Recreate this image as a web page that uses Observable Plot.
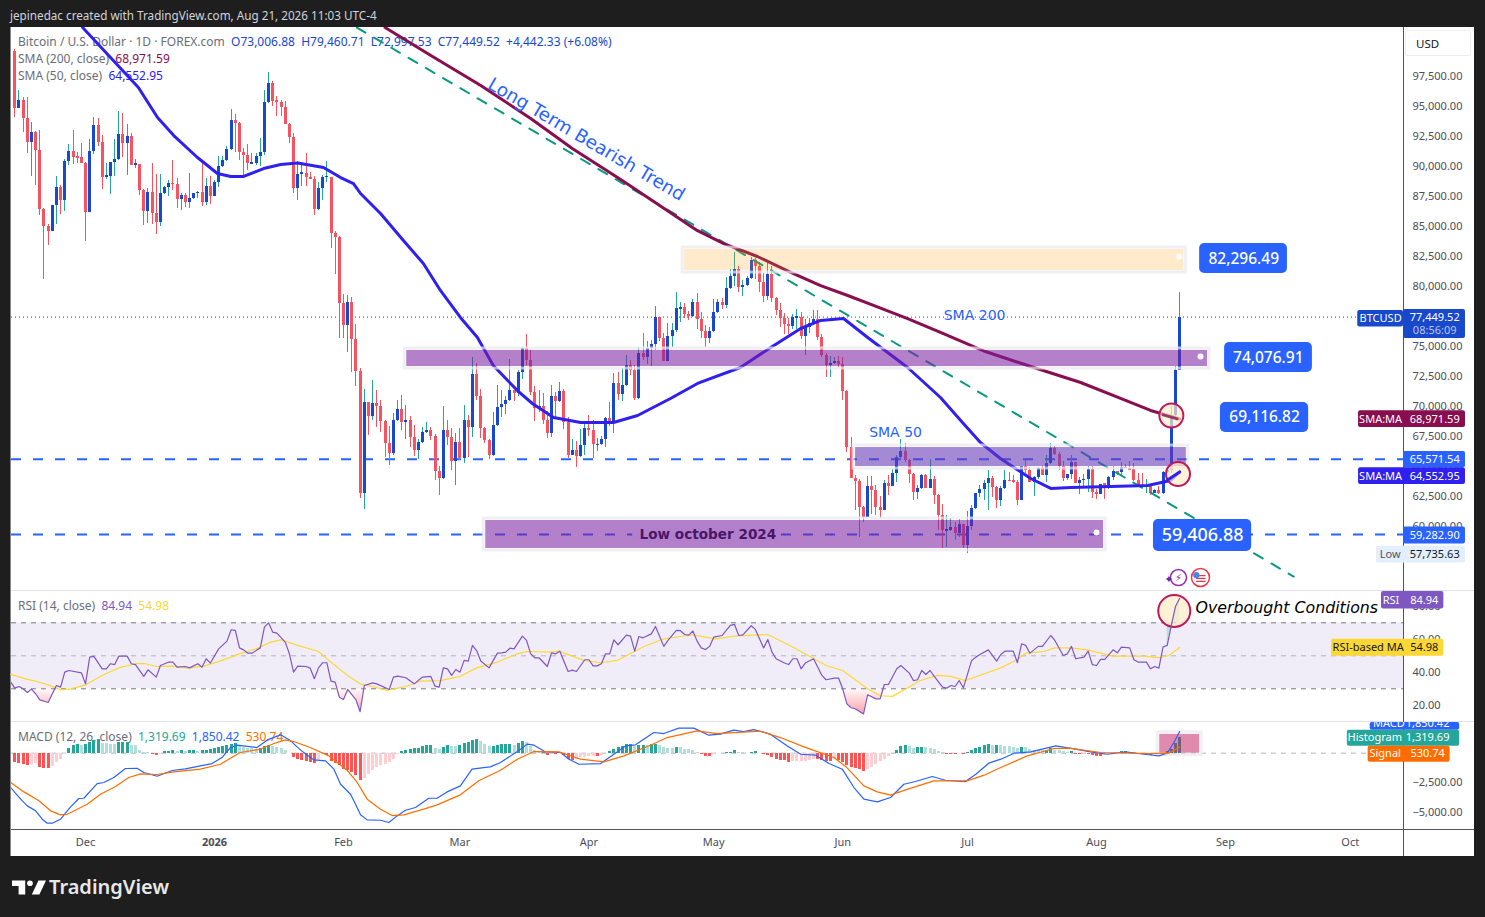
<!DOCTYPE html>
<html><head><meta charset="utf-8">
<script src="https://cdn.jsdelivr.net/npm/d3@7"></script>
<script src="https://cdn.jsdelivr.net/npm/@observablehq/plot@0.6"></script>
<style>
html,body{margin:0;padding:0;background:#1e1e1e;overflow:hidden}
#page{position:relative;width:1485px;height:917px;background:#1e1e1e;font-family:"Noto Sans",sans-serif;overflow:hidden}
#sheet{position:absolute;left:11px;top:27px;width:1463px;height:829px;background:#fff}
.abs{position:absolute}
.legend{position:absolute;left:18px;font-size:12px;color:#6a6d78;white-space:pre;line-height:14px}
svg.plot{position:absolute;left:0}
</style></head><body>
<div id="page">
<div class="abs" style="left:10px;top:7px;font-size:11.7px;color:#d1d4dc">jepinedac created with TradingView.com, Aug 21, 2026 11:03 UTC-4</div>
<div id="sheet"></div>
<div class="abs" style="left:10px;top:27px;width:1px;height:829px;background:#888"></div>
<div class="abs" style="left:11px;top:590px;width:1463px;height:1px;background:#e0e3eb"></div>
<div class="abs" style="left:11px;top:721px;width:1463px;height:1px;background:#e0e3eb"></div>
<div class="abs" style="left:11px;top:829px;width:1463px;height:1px;background:#50535e"></div>
<div class="abs" style="left:1403px;top:27px;width:1px;height:829px;background:#50535e"></div>
<div class="abs" style="left:1405px;top:30px;width:66px;height:26px;border:1px solid #eceef2;border-radius:2px;box-sizing:border-box;font-size:11.5px;color:#131722;line-height:26px;padding-left:10px">USD</div>
<div class="legend" style="top:35px">Bitcoin / U.S. Dollar · 1D · FOREX.com  <span style="color:#1848cc">O73,006.88  H79,460.71  L72,997.53  C77,449.52  +4,442.33 (+6.08%)</span></div>
<div class="legend" style="top:52px">SMA (200, close)  <span style="color:#880e4f">68,971.59</span></div>
<div class="legend" style="top:69px">SMA (50, close)  <span style="color:#3020f0">64,552.95</span></div>
<div class="legend" style="top:599px">RSI (14, close)  <span style="color:#7e57c2">84.94</span>  <span style="color:#fdd835">54.98</span></div>
<div class="legend" style="top:730px">MACD (12, 26, close)  <span style="color:#26a69a">1,319.69</span>  <span style="color:#2962ff">1,850.42</span>  <span style="color:#ff6d00">530.74</span></div>
<svg class="abs" style="left:12px;top:880px" width="34" height="15" viewBox="0 0 36 15"><path fill="#fff" d="M0 0h14v15h-7v-9h-7z"/><circle cx="19" cy="3" r="3" fill="#fff"/><path fill="#fff" d="M28 0h8l-7 15h-8z"/></svg>
<div class="abs" style="left:49px;top:873px;font-size:20px;font-weight:600;color:#e8e8e8">TradingView</div>
</div>
<script>
// ---------- Candles, thousands of USD, one per day from 14 Nov 2025 ----------
const firstOpenK = 99.61;
const closesK = [94.86,95.50,94.03,92.03,92.84,91.34,86.45,85.03,84.61,86.75,
88.25,87.17,90.42,91.25,90.78,90.75,90.28,86.20,91.25,93.42,
92.00,89.09,89.17,90.34,90.59,92.67,91.92,92.50,90.09,90.17,
88.00,86.25,87.84,86.09,85.34,87.75,88.25,88.59,88.50,87.25,
87.59,87.00,87.34,87.75,87.84,87.00,88.34,87.50,88.67,90.00,
90.50,91.42,93.84,93.59,91.17,90.92,90.25,90.25,90.84,91.17,
95.34,96.92,95.42,95.34,94.92,93.50,92.42,88.17,89.34,89.42,
89.09,88.92,86.42,88.17,89.09,89.09,84.42,84.09,78.55,76.75,
78.66,75.58,72.91,62.77,70.33,69.16,70.25,70.00,68.75,66.91,
66.08,68.83,69.75,68.66,68.83,67.41,66.33,67.00,67.83,68.00,
67.50,64.58,64.00,68.00,67.41,65.41,67.00,65.66,68.83,68.25,
72.66,70.83,68.16,67.16,65.91,68.41,69.91,70.16,70.50,71.33,
71.08,72.83,74.83,73.83,71.16,69.83,70.00,68.83,67.75,70.83,
70.41,71.25,68.66,65.91,66.33,65.83,66.75,68.16,68.00,66.83,
66.83,67.25,69.00,68.66,71.91,71.00,71.75,73.41,73.00,70.66,
74.41,74.08,74.83,75.16,77.39,75.66,73.75,75.83,76.33,78.16,
78.22,77.66,77.50,78.66,77.25,76.25,75.66,76.25,77.84,78.67,
78.42,79.84,80.84,81.42,79.92,80.09,80.67,82.17,81.67,80.34,
79.17,81.00,79.00,78.00,77.34,76.84,76.67,77.42,77.42,75.84,
76.59,76.92,77.25,75.75,74.25,73.42,73.59,73.75,73.50,71.25,
66.61,64.03,63.75,61.58,60.75,63.33,63.00,61.58,61.33,63.58,
63.33,64.42,65.75,66.25,65.50,64.33,62.83,63.17,64.25,63.17,
63.92,62.58,60.92,59.67,59.67,59.92,59.42,60.17,58.42,60.00,
61.50,62.75,63.08,63.58,64.00,63.25,62.17,63.17,63.83,63.80,
63.67,62.17,65.00,64.67,63.67,64.08,64.83,64.25,65.25,66.50,
66.00,65.00,64.00,64.33,65.33,63.58,63.83,63.92,64.72,62.83,
62.67,63.50,63.42,64.08,64.58,64.50,64.92,64.83,64.75,63.83,
63.42,63.33,63.39,62.75,63.00,62.75,64.50,64.64,69.25,73.007,77.44952];
const highsK = [99.73,96.34,95.78,95.78,93.67,92.92,93.00,86.48,85.17,86.75,
89.17,88.42,90.59,91.84,93.00,91.20,91.89,90.34,92.23,94.06,
94.00,92.59,90.23,90.36,92.28,94.59,94.42,93.50,92.73,90.59,
90.17,88.09,88.14,90.25,89.34,89.34,88.34,88.84,90.50,89.00,
87.75,87.75,89.42,87.75,87.92,90.34,89.00,89.17,88.84,90.84,
90.84,91.67,94.75,94.34,93.67,91.50,91.84,91.09,91.09,92.34,
96.34,97.84,97.09,95.84,95.50,95.42,93.59,92.73,90.42,90.17,
91.09,89.50,89.17,88.67,89.25,90.42,89.09,84.59,84.17,79.33,
79.25,79.08,76.83,73.16,71.41,70.33,72.16,71.33,70.50,68.83,
68.33,69.41,70.50,70.91,70.08,69.16,68.41,67.25,68.25,68.66,
68.25,67.66,65.00,70.00,68.83,68.16,67.75,68.16,70.08,69.25,
74.08,73.58,71.41,68.25,67.25,69.50,71.75,71.33,70.83,73.91,
71.33,73.00,74.91,76.00,74.66,71.66,71.33,71.08,69.58,71.75,
71.16,72.00,71.41,69.08,67.25,67.08,68.08,68.55,69.25,68.83,
67.33,67.50,69.08,70.33,72.75,72.83,73.16,74.25,73.83,73.41,
74.91,76.08,75.41,75.50,78.33,77.39,76.08,76.91,76.91,79.50,
78.66,78.58,77.91,78.91,79.41,77.83,76.75,76.59,78.89,78.92,
79.00,80.75,81.39,82.84,81.67,80.50,80.84,82.42,82.34,82.00,
81.09,82.00,81.67,79.09,78.59,77.72,77.34,77.67,78.09,77.84,
77.25,77.34,77.98,78.00,76.00,74.42,74.17,74.09,74.17,74.09,
71.34,67.39,64.25,63.92,61.67,64.17,64.17,63.42,62.50,63.83,
64.25,64.75,65.92,67.22,66.92,65.58,64.42,63.42,64.33,64.33,
65.58,64.17,62.67,61.83,60.92,60.69,60.36,60.58,60.17,61.25,
61.75,62.75,63.42,63.83,64.67,64.17,63.33,63.33,64.67,64.50,
64.25,63.83,65.03,65.50,64.94,64.17,64.94,64.97,65.92,66.89,
66.67,66.17,65.42,64.33,65.92,65.33,64.08,64.33,65.00,65.00,
63.08,63.50,63.56,64.17,65.00,64.58,65.33,65.17,65.42,65.28,
64.42,64.42,63.92,63.50,63.11,63.33,64.58,64.72,70.00,73.33,79.46071];
const lowsK = [94.11,94.81,92.86,91.11,89.20,88.45,85.92,80.56,83.45,84.61,
85.17,86.00,86.25,90.09,90.17,90.23,90.23,83.78,86.20,91.00,
91.67,88.11,88.92,87.70,89.17,90.50,90.75,89.28,90.09,89.81,
87.61,85.11,85.28,85.17,84.36,85.00,87.67,87.50,88.00,86.48,
86.34,86.61,86.50,87.25,87.34,86.67,86.75,86.84,87.50,88.28,
89.92,90.42,91.34,91.17,90.50,89.17,89.67,90.25,90.09,90.00,
90.92,95.25,95.00,94.17,94.17,93.50,91.92,87.75,87.17,88.34,
88.37,88.92,85.92,86.34,87.17,88.67,83.17,81.00,75.64,75.64,
74.50,72.83,71.66,62.36,61.39,67.58,68.83,68.27,67.83,65.75,
65.08,65.91,68.75,68.00,67.25,66.58,65.83,65.58,66.91,67.75,
67.16,63.83,62.58,63.91,66.75,64.66,63.41,65.50,65.25,65.78,
67.44,70.50,67.33,66.91,65.58,65.83,68.33,69.05,69.33,70.41,
70.41,70.83,72.25,73.41,70.91,68.75,69.50,68.50,67.33,67.44,
68.91,70.33,68.08,65.66,65.91,64.91,65.75,65.91,67.50,65.66,
66.25,66.75,66.58,68.33,67.75,70.50,70.41,71.66,72.58,70.50,
70.58,73.83,73.50,73.33,74.66,75.41,73.75,73.75,74.94,76.16,
77.00,77.36,77.16,77.41,76.41,75.66,74.91,75.25,76.17,77.75,
78.09,78.17,79.75,80.00,79.50,79.17,80.00,80.59,80.59,79.50,
78.67,78.84,78.67,77.59,76.59,76.00,76.00,76.42,76.42,75.59,
74.25,76.06,76.84,75.50,74.09,72.42,72.42,73.50,73.25,70.50,
66.14,63.97,61.33,59.11,60.33,60.75,61.00,60.92,60.67,61.33,
62.58,63.33,63.67,65.67,65.33,63.56,62.17,62.25,63.08,63.17,
63.17,61.83,59.67,58.14,58.25,59.58,58.83,59.11,58.14,57.74,
59.67,61.42,62.44,62.17,61.33,62.44,61.50,61.67,63.08,63.75,
63.61,61.75,62.17,64.39,63.67,62.50,63.92,64.25,63.67,65.17,
65.92,64.67,63.72,63.83,63.92,63.58,62.67,63.17,62.83,62.33,
62.25,62.67,62.25,63.08,63.83,64.25,64.17,64.81,64.72,63.75,
63.33,63.22,62.78,62.58,62.75,62.64,62.67,64.39,64.39,69.16,72.99753];

// ---------- Moving averages ----------
const sma200Days = [89,100,112,124,134,146,155,164,170.4,178.5,186.5,193.7,200.2,206.4,214.6,222.5,233.3,244.2,256.2,265.8,273,280];
const sma200K = [101.58,99.25,96.75,94.0,91.5,88.83,86.75,84.67,83.58,82.5,81.17,80.08,79.25,78.42,77.33,76.17,74.58,73.33,72.0,70.67,69.67,68.97];
const sma50Days = [16.3,29.7,34.3,38.2,43.9,48.7,51.9,55,59.8,63.9,68,74.2,78.3,81.4,83.1,87.9,93.4,98.2,102.3,107.1,111.2,115,120.8,124.4,129.5,136,143.9,149.7,157.6,164.1,174.4,181.7,188.9,193.7,199.2,205,214.6,222.5,228,232.1,236.9,244.2,249,253.8,263.4,272.3,277.8,280];
const sma50K = [101.58,96.58,94.08,92.58,90.75,89.42,89.17,89.17,89.83,90.17,90.29,89.92,89.08,88.58,87.75,86.08,83.83,81.92,79.67,77.42,75.75,73.42,71.33,70.25,69.08,68.67,68.67,69.25,70.67,71.92,73.25,74.92,76.5,77.17,77.33,75.75,73.25,70.75,68.58,67.0,65.67,64.0,63.17,63.25,63.33,63.42,63.83,64.55];

// ---------- RSI ----------
const rsiDays = [-1,0,1,2,3,4,5,6,8,10,11,12,13,16,17,18,19,21,22,23,24,25,27,28,29,31,32,34,35,37,38,39,41,42,44,45,46,47,49,51,52,53,54,55,56,57,59,60,61,62,63,65,66,67,68,70,71,72,73,74,75,76,77,78,79,80,82,83,84,86,87,90,91,92,94,96,98,100,101,102,103,104,105,106,107,108,109,110,111,112,114,116,117,118,119,120,122,123,124,125,126,128,129,130,131,133,134,135,137,138,139,140,141,142,143,144,145,147,148,149,150,151,153,154,156,157,159,160,161,162,163,164,165,166,167,168,170,171,172,173,174,175,177,178,180,181,182,183,185,186,187,188,189,190,192,194,195,197,198,199,200,201,202,204,205,207,208,209,210,212,213,215,216,217,218,219,220,221,223,224,225,226,227,228,230,231,232,234,236,237,238,240,241,242,243,244,246,247,249,250,252,253,254,255,257,258,259,260,261,262,264,265,266,268,269,270,272,273,274,275,276,277,278,279,280];
const rsiValues = [34,30.4,31.4,30,27.8,29.8,27,23.3,21.7,32,31,40.1,41.1,39.7,33,49.2,49.6,42.1,42.1,45.2,44.7,49.8,49.8,45.2,44.7,37.5,41.5,37.1,44.1,46.2,46.2,43.1,43.5,42.7,45.2,43.1,48.2,45.6,54.2,58.9,65.8,65.4,54.8,53.6,51.6,51.6,54.8,67.4,70,64.3,63.7,58.3,51.2,40.1,43.7,43.5,42.5,36.1,42.7,45.8,45.8,34.6,34,24.9,23.5,29.6,23.3,16.1,32,33.6,33,29.6,37.1,37.7,36.7,33,37.1,37.5,31.6,31,42.7,42.1,38.1,41.7,40.1,47.2,46.8,56.3,53.2,46.8,42.7,51.6,51.8,52.2,54.6,54.2,61.9,59.3,51.2,48.8,48.8,43.5,51.8,51.2,52.8,40.5,41.3,40.5,47.6,47.6,43.9,43.9,45.2,51.2,51.2,59.7,56.7,62.5,61.9,52.8,61.7,60.9,63.3,67.8,55.7,59.3,65.4,65.2,62.9,62.5,65,58.9,54.8,53.8,55.7,61.3,62.3,65.4,68.4,69,62.3,62.7,68.2,66,54.8,59.9,52.2,48.2,45.6,44.7,48.2,48.2,42.1,45.6,48.2,38.1,35.5,36.5,36.5,30,20.9,18.5,17.9,14.8,26.4,23.9,23.9,32.6,32.6,42.1,44.1,39.5,35,35.5,41.1,38.7,41.1,37.5,31,30.4,32,31.4,35,30.6,47.2,49.2,50.8,53.6,46.8,50.8,52.8,52.8,45.8,57.3,56.3,51.6,55.7,55.7,62.3,59.3,50.2,51.2,55.7,48.2,49.2,52.8,44.7,44.1,47.8,47.8,53.6,51.8,55.3,54.8,47.6,46.2,46.2,42.1,43.5,42.5,55.3,56.3,68.4,79.9,84.94];
const rsiMaDays = [-1,3,5,8,11,13.5,17,21,25,29,31.4,34,38,41.5,45.4,48.6,52,54,58,61.5,64,68,73,75.5,80,83,86,89.5,94,97.5,102.3,107,111,116,120.8,123,128.8,130.8,136.8,140.8,144.8,151,156,160,163,168.4,173.6,181,187,195,199,205,208,211,217.7,221.7,225,228.5,237,241,243,247.4,250,253.8,257.8,264,271.4,275.4,277.4,280];
const rsiMaValues = [38.7,35.7,34.6,32.4,29.4,30,32.4,38.1,42.7,45.2,45.2,43.5,43.7,42.5,43.7,46.2,49.2,51.2,54.2,58.3,59.7,56.3,52.6,47.2,38.1,33,31.4,29,31.4,34.6,35,37.5,42.7,46.2,51.2,52.6,52.2,52.8,47.2,45.8,47.2,55.3,60.3,61.7,62.7,60.3,62.1,62.9,55.3,44.1,41.1,30,25.8,25.4,35,38.1,37.5,35,42.7,47.8,51.6,52.6,54.8,54.8,53.6,49.8,49.8,48.8,50.2,54.98];

// ---------- MACD, thousands ----------
const macdDays = [-1,1.4,3,5,6.6,7.8,9,11,13.4,15.4,16.6,18.2,19.8,21.4,23.8,26.6,29.4,31,34.2,37.8,41,44.6,47.4,49.8,51.8,53.4,58.2,60.7,63.9,66.3,68.7,71.9,74.7,76.7,78.3,80.7,81.9,83.1,84.7,87.9,89.9,91.9,93.9,96.3,99.5,101.5,103.9,107.1,109.9,112.7,114.3,116.75,120.8,123.2,124.8,127.6,131.2,133.2,135.6,140.8,144,146.8,149.2,153.6,156,159.6,163.2,166.8,169.6,172.8,175.2,177.6,181.6,185.7,188.9,192.5,195.7,198.9,201.7,204.1,207.3,210.5,213.7,216.5,220.5,223.7,228.5,231,234.1,237,240.2,244.2,250.2,255,258.6,262.6,267,271.4,275,277,278.6,280];
const macdK = [-2.92,-3.91,-4.48,-4.90,-5.61,-5.95,-5.95,-5.61,-4.56,-3.85,-3.83,-3.20,-2.58,-2.49,-2.07,-1.30,-1.28,-1.64,-1.96,-1.47,-1.33,-1.08,-0.88,-0.37,0.48,0.68,0.48,1.13,1.56,1.05,0.26,-0.57,-0.65,-1.36,-2.64,-3.49,-4.34,-5.24,-5.67,-5.70,-5.89,-5.33,-4.85,-4.62,-3.83,-3.83,-3.29,-2.78,-1.36,-1.22,-1.16,-0.79,0.14,0.77,0.68,0.11,0.06,-0.51,-0.94,-0.88,-0.09,0.62,0.71,1.76,1.67,2.13,2.13,1.53,1.62,1.96,1.84,2.01,1.62,0.62,-0.09,-0.17,-0.88,-1.36,-2.92,-3.91,-4.14,-3.77,-2.64,-2.41,-1.98,-2.30,-2.41,-1.79,-0.85,-0.51,0,0.11,0.62,0.34,0.11,-0.09,0.11,-0.09,-0.23,0,0.91,1.85042];
const signalDays = [-1,2.2,5.8,8.6,11,12.6,17.4,20.6,24.2,27.4,30.2,34.2,38.2,44.6,49.4,54.2,59,62.3,65,67,71,75.5,80,82.3,84.7,87.9,90.7,93.5,98.3,101.5,107.1,111.5,116.75,120.8,124.8,130.8,136,141.6,146.4,152.8,156.8,164,168.8,179.2,184,189.7,196.9,200,204.1,207.3,210.5,214.1,220.9,228.9,233,237,243.4,249.8,253.4,261,273,277.4,280];
const signalK = [-2.49,-3.29,-4.05,-4.90,-5.24,-5.19,-4.34,-3.49,-2.83,-2.07,-1.76,-1.81,-1.59,-1.36,-0.94,0.06,0.34,0.82,1.13,0.99,0.48,-0.23,-1.50,-2.49,-3.91,-4.76,-5.30,-5.24,-4.76,-4.39,-3.54,-2.35,-1.45,-0.51,0.14,0.11,-0.51,-0.74,-0.23,0.68,1.33,1.90,1.67,1.87,1.33,0.54,-0.37,-1.22,-2.78,-3.29,-3.57,-3.12,-2.35,-2.35,-1.87,-1.22,-0.23,0.40,0.43,0.06,-0.03,0,0.53074];
const histK = [-.79,-.85,-.94,-1.02,-.99,-.88,-1.22,-1.30,-1.30,-1.13,-.79,-.57,-.09,.40,.62,.74,.62,.77,.91,1.05,
1.13,.82,.79,.78,.77,.91,.92,.93,.68,.62,.26,.09,.03,-.09,-.23,-.09,.11,.17,.20,.14,
.20,.17,.20,.21,.17,.20,.26,.31,.40,.48,.54,.62,.71,.82,.60,.48,.40,.37,.31,.37,
.54,.62,.60,.48,.40,.20,0,-.37,-.51,-.65,-.71,-.77,-.88,-.65,-.14,-.17,-.71,-.85,-1.08,-1.36,
-1.50,-1.64,-1.93,-2.35,-2.13,-1.79,-1.50,-1.22,-1.08,-.94,-.79,-.51,-.14,.11,.26,.34,.37,.40,.54,.62,
.63,.43,.34,.48,.68,.60,.60,.65,.82,.91,1.05,1.19,.96,.77,.57,.60,.65,.71,.77,.78,
.68,.85,.96,.91,.54,.26,.11,.14,-.23,-.09,-.11,.03,-.23,-.51,-.65,-.51,-.37,-.36,-.31,-.26,
-.28,-.23,0,.11,.34,.48,.54,.71,.72,.54,.62,.65,.62,.71,.72,.62,.48,.40,.37,.48,
.45,.31,.28,.20,.03,-.09,-.28,-.29,-.09,-.03,-.01,.06,.09,.20,.06,.03,.01,.09,.11,0,
-.09,-.23,-.37,-.51,-.60,-.65,-.79,-.74,-.73,-.72,-.71,-.60,-.51,-.52,-.65,-.71,-.74,-.51,-.60,-.79,
-1.08,-1.22,-1.28,-1.42,-1.59,-1.42,-1.22,-.94,-.71,-.51,-.28,-.03,.26,.57,.62,.54,.43,.45,.46,.45,
.44,.31,.14,.03,-.09,-.11,-.12,-.06,-.11,.06,.20,.40,.51,.62,.71,.65,.68,.62,.61,.54,
.48,.43,.48,.45,.34,.26,.23,.20,.26,.40,.26,.20,.14,.06,.11,-.09,-.14,-.11,-.11,-.20,
-.28,-.29,-.23,-.11,-.03,.01,.14,.15,.09,.03,-.09,-.11,-.14,-.17,-.14,-.09,-.03,.11,.34,.82,1.31969];

// ---------- Axes ----------
const priceTicks = [60000,62500,65000,67500,70000,72500,75000,77500,80000,82500,85000,87500,90000,92500,95000,97500];
const rsiTicks = [20,40,60,80];
const macdTicks = [-5000,-2500];
const monthTicks = [[2025,11],[2026,1],[2026,2],[2026,3],[2026,4],[2026,5],[2026,6],[2026,7],[2026,8],[2026,9]];
const monthNames = ["Jan","Feb","Mar","Apr","May","Jun","Jul","Aug","Sep","Oct","Nov","Dec"];

// ---------- Price levels ----------
const lastPrice = 77449.52;
const supportDashes = [65571.54, 59282.90];

// ---------- scales ----------
const START = Date.UTC(2025,10,14);
const day = i => new Date(START + i*864e5);
const K = v => v*1000;
const LEFT = -0.8, RIGHT = 333.8;
const xOpts = {domain:[day(LEFT),day(RIGHT)], range:[11,1403], type:"utc", axis:null};
const W = 1485, FONT = '"Noto Sans",sans-serif';
const baseStyle = {fontFamily:FONT, fontSize:"11px", background:"transparent", overflow:"hidden", color:"#4a4d58"};

const candles = closesK.map((c,i)=>{
  const close=K(c), open=K(i?closesK[i-1]:firstOpenK);
  const tiny = Math.abs(open-close)<85 ? 45 : 0;
  return {date:day(i),open,close,
    high:Math.max(K(highsK[i]),open,close), low:Math.min(K(lowsK[i]),open,close),
    top:Math.max(open,close)+tiny, bot:Math.min(open,close)-tiny, up:close>=open};
});
const ups=candles.filter(d=>d.up), downs=candles.filter(d=>!d.up);
const series=(ds,vs,m=1)=>ds.map((d,i)=>({date:day(d),v:vs[i]*m}));
const box=(d1,d2,v1,v2,fill,extra={})=>({x1:day(d1),x2:day(d2),y1:v1,y2:v2,fill,...extra});
const fmt2=d3.format(",.2f");
const RECT={x1:"x1",x2:"x2",y1:"y1",y2:"y2"};
const tagMarks=tags=>tags.map(t=>Plot.rect([t],{...RECT,fill:t.fill,rx:2}));
const TX=(rows,o={})=>Plot.text(rows,{x:"x",y:"y",text:"t",fill:"#fff",fontSize:11,...o});
const zone=(rows,fill,op)=>[
  Plot.rect(rows,{...RECT,fill,fillOpacity:op}),
  Plot.rect(rows,{...RECT,fill:"none",inset:-2,stroke:"#e9e9ef",strokeOpacity:.7,strokeWidth:3})];

// ---------- MAIN PANE ----------
const zoneYellow = [box(161,281,83080,81330)];
const zonePurple = [box(94.2,286.7,74670,73330),box(113.2,261.7,60500,58170)];
const zoneMid    = [box(202.1,281.6,66580,65000)];
const calloutBoxes=[
  {x1:day(284.8),x2:day(305.9),y1:83580,y2:81080},
  {x1:day(290.8),x2:day(311.9),y1:75330,y2:72830},
  {x1:day(289.8),x2:day(311),y1:70330,y2:67830},
  {x1:day(273.7),x2:day(297.3),y1:60580,y2:57920}];
const callouts=[
  {x:day(295.4),y:82296,t:"82,296.49"},{x:day(301.3),y:74077,t:"74,076.91"},{x:day(300.4),y:69117,t:"69,116.82"}];
const mainTagRects=[
  box(322.8,333.8,78000,76620,"#1848cc"),box(333.8,348.7,78080,75670,"#1848cc"),
  box(323,348.7,69650,68250,"#880e4f"),
  box(333.8,348.7,66250,64900,"#2962ff"),
  box(323,348.7,64900,63500,"#3020f0"),
  box(333.8,348.7,59950,58550,"#2962ff"),
  box(327.3,348.7,58350,56950,"#e3effd")];
const main = Plot.plot({
  width:W,height:563,marginLeft:11,marginRight:82,marginTop:0,marginBottom:0,
  x:xOpts,y:{domain:[54667,101583],range:[563,0],axis:null},style:baseStyle,
  marks:[
    Plot.axisY({anchor:"right",ticks:priceTicks,tickFormat:d=>fmt2(d),tickSize:0,tickPadding:9,label:null,fill:"#4a4d58",fontSize:11,dy:-0.5}),
    Plot.ruleY([lastPrice],{stroke:"#1848cc",strokeDasharray:"1,3",strokeWidth:1}),
    Plot.ruleY(supportDashes,{stroke:"#2962ff",strokeDasharray:"10,12",strokeWidth:2,dy:-0.5}),
    Plot.ruleX(ups,{x:"date",y1:"low",y2:"high",stroke:"#26a69a",strokeWidth:1,shapeRendering:"crispEdges"}),
    Plot.ruleX(downs,{x:"date",y1:"low",y2:"high",stroke:"#f7525f",strokeWidth:1,shapeRendering:"crispEdges"}),
    Plot.ruleX(ups,{x:"date",y1:"bot",y2:"top",stroke:"#1848cc",strokeWidth:3,shapeRendering:"crispEdges"}),
    Plot.ruleX(downs,{x:"date",y1:"bot",y2:"top",stroke:"#f7525f",strokeWidth:3,shapeRendering:"crispEdges"}),
    Plot.line(series([82.2,307.4],[101.58,55.83],1000),{x:"date",y:"v",stroke:"#089981",strokeWidth:2,strokeDasharray:"10,10",clip:true}),
    Plot.line(series(sma200Days,sma200K,1000),{x:"date",y:"v",stroke:"#880e4f",strokeWidth:3,clip:true}),
    Plot.line(series(sma50Days,sma50K,1000),{x:"date",y:"v",stroke:"#3020f0",strokeWidth:3,clip:true}),
    ...zone(zoneYellow,"#ff9800",.2),
    ...zone(zonePurple,"#7b1fa2",.57),
    ...zone(zoneMid,"#673ab7",.6),
    Plot.dot([{x:day(279.9),y:82500},{x:day(285),y:74170},{x:day(260),y:59500}],{x:"x",y:"y",r:3,fill:"#fff"}),
    Plot.dot([{x:day(278),y:69250},{x:day(279.6),y:64380}],{x:"x",y:"y",r:12,fill:"#fdecc8",fillOpacity:.7,stroke:"#c2185b",strokeWidth:2}),
    Plot.line(series([277,280],[63.85,64.55],1000),{x:"date",y:"v",stroke:"#3020f0",strokeWidth:3}),
    Plot.line(series([276,279.4],[69.3,68.97],1000),{x:"date",y:"v",stroke:"#880e4f",strokeWidth:3,strokeOpacity:.75}),
    Plot.text([{x:day(137.4),y:92250}],{x:"x",y:"y",text:()=>"Long Term Bearish Trend",rotate:30.4,fontSize:18.3,fill:"#2962ff",fontFamily:"DejaVu Sans"}),
    Plot.text([{x:day(230.7),y:77580,t:"SMA 200"},{x:day(211.7),y:67830,t:"SMA 50"}],{x:"x",y:"y",text:"t",fontSize:14,fill:"#2962ff",fontFamily:"DejaVu Sans"}),
    Plot.rect([box(148.5,184,59950,58700)],{...RECT,fill:"#b17fcb"}),
    Plot.text([{x:day(166.6),y:59300}],{x:"x",y:"y",text:()=>"Low october 2024",fontSize:13.6,fontWeight:600,fill:"#4a1566",fontFamily:"DejaVu Sans"}),
    Plot.rect(calloutBoxes,{...RECT,fill:"#2962ff",rx:5}),
    Plot.text(callouts,{x:"x",y:"y",text:"t",fill:"#fff",fontSize:15.5,fontWeight:500}),
    Plot.text([{x:day(285.5),y:59250,t:"59,406.88"}],{x:"x",y:"y",text:"t",fill:"#fff",fontSize:18,fontWeight:500}),
    Plot.dot([{x:day(279.7),y:55750}],{x:"x",y:"y",r:8,fill:"#fff",stroke:"#9c27b0",strokeWidth:1.5}),
    Plot.text([{x:day(279.7),y:55750}],{x:"x",y:"y",text:()=>"⚡",fontSize:10,fill:"#9c27b0",fontFamily:"DejaVu Sans"}),
    Plot.text([{x:day(277.4),y:55600}],{x:"x",y:"y",text:()=>"✦",fontSize:11,fill:"#5e2ca5",fontFamily:"DejaVu Sans"}),
    Plot.dot([{x:day(285),y:55750}],{x:"x",y:"y",r:9,fill:"#fff",stroke:"#f23645",strokeWidth:1.5}),
    Plot.text([{x:day(285.1),y:55700}],{x:"x",y:"y",text:()=>"≡",fontSize:15,fill:"#f23645",fontFamily:"DejaVu Sans"}),
    Plot.dot([{x:day(284),y:55950}],{x:"x",y:"y",r:3.2,fill:"#4a86e8"}),
    ...tagMarks(mainTagRects),
    TX([{x:day(328.3),y:77350,t:"BTCUSD"},{x:day(341.3),y:77420,t:"77,449.52"},
        {x:day(328.3),y:68950,t:"SMA:MA"},{x:day(341.3),y:68950,t:"68,971.59"},
        {x:day(341.3),y:65570,t:"65,571.54"},
        {x:day(328.3),y:64200,t:"SMA:MA"},{x:day(341.3),y:64200,t:"64,552.95"},
        {x:day(341.3),y:59250,t:"59,282.90"}]),
    TX([{x:day(341.3),y:76300,t:"08:56:09"}],{fill:"#b9c6ee"}),
    TX([{x:day(330.6),y:57650,t:"Low"}],{fill:"#50535e"}),
    TX([{x:day(341.3),y:57650,t:"57,735.63"}],{fill:"#131722"})
  ]});
main.style.top="27px";

// ---------- RSI PANE ----------
const rsiData=series(rsiDays,rsiValues);
const rsiY={domain:[10.18,88.97],range:[130,0],axis:null};
const osGradient=(index,{y})=>{
  const defs=d3.create("svg:defs");
  const g=defs.append("linearGradient").attr("id","osg").attr("gradientUnits","userSpaceOnUse")
    .attr("x1",0).attr("x2",0).attr("y1",y(30)).attr("y2",y(14));
  g.append("stop").attr("offset",0).attr("stop-color","#f7525f").attr("stop-opacity",.03);
  g.append("stop").attr("offset",1).attr("stop-color","#f7525f").attr("stop-opacity",.55);
  return defs.node();
};
const rsi = Plot.plot({
  width:W,height:130,marginLeft:11,marginRight:82,marginTop:0,marginBottom:0,
  x:xOpts,y:rsiY,style:baseStyle,
  marks:[
    osGradient,
    Plot.axisY({anchor:"right",ticks:rsiTicks,tickFormat:d=>fmt2(d),tickSize:0,tickPadding:9,label:null,fill:"#4a4d58",fontSize:11}),
    Plot.rect([box(LEFT,RIGHT,30,70)],{...RECT,fill:"#7e57c2",fillOpacity:.11}),
    Plot.ruleY([30,70],{stroke:"#787b86",strokeDasharray:"5,5"}),
    Plot.ruleY([50],{stroke:"#787b86",strokeOpacity:.5,strokeDasharray:"5,5"}),
    Plot.areaY(rsiData,{x:"date",y1:30,y2:d=>Math.min(d.v,30),fill:"url(#osg)"}),
    Plot.areaY(rsiData.filter(d=>d.date>=day(277)),{x:"date",y1:d=>Math.min(d.v,70),y2:d=>Math.max(d.v,70),fill:"#26a69a",fillOpacity:.25}),
    Plot.dot([{x:day(278.7),y:77.2}],{x:"x",y:"y",r:16,fill:"#fdecc8",fillOpacity:.75,stroke:"#c2185b",strokeWidth:2}),
    Plot.line(series(rsiMaDays,rsiMaValues),{x:"date",y:"v",stroke:"#fdd835",strokeWidth:1.2}),
    Plot.line(rsiData,{x:"date",y:"v",stroke:"#7e57c2",strokeWidth:1.2,clip:true}),
    Plot.text([{x:day(283.8),y:79.3}],{x:"x",y:"y",text:()=>"Overbought Conditions",textAnchor:"start",fontSize:15.8,fontStyle:"italic",fill:"#000",fontFamily:"DejaVu Sans"}),
    ...tagMarks([box(328.5,343.5,88.97,78.4,"#7e57c2"),box(316.5,343.5,60.1,49.8,"#fdd835")]),
    TX([{x:day(330.8),y:83.6,t:"RSI"},{x:day(338.8),y:83.6,t:"84.94"}]),
    TX([{x:day(325.3),y:54.98,t:"RSI-based MA"},{x:day(338.8),y:54.98,t:"54.98"}],{fill:"#131722"})
  ]});
rsi.style.top="591px";

// ---------- MACD PANE ----------
const macdY={domain:[-6488,2610],range:[107,0],axis:null};
const hist=histK.map((h,i)=>{const v=K(h),p=i?K(histK[i-1]):v;return {date:day(i),v,rise:v>p};});
const barMark=(rows,color)=>Plot.ruleX(rows,{x:"date",y1:0,y2:"v",stroke:color,strokeWidth:3,shapeRendering:"crispEdges"});
const monthDates=monthTicks.map(([y,m])=>new Date(Date.UTC(y,m,1))).filter(d=>!(d.getUTCFullYear()===2026&&d.getUTCMonth()===0));
const yearDates=[new Date(Date.UTC(2026,0,1))];
const macd = Plot.plot({
  width:W,height:134,marginLeft:11,marginRight:82,marginTop:0,marginBottom:27,
  x:xOpts,y:macdY,style:baseStyle,
  marks:[
    Plot.axisY({anchor:"right",ticks:macdTicks,tickFormat:d=>"−"+fmt2(-d),tickSize:0,tickPadding:9,label:null,fill:"#4a4d58",fontSize:11}),
    Plot.axisX({anchor:"bottom",ticks:monthDates,tickFormat:d=>monthNames[d.getUTCMonth()],tickSize:0,tickPadding:9,label:null,fill:"#4a4d58",fontSize:11}),
    Plot.axisX({anchor:"bottom",ticks:yearDates,tickFormat:d=>String(d.getUTCFullYear()),tickSize:0,tickPadding:9,label:null,fill:"#4a4d58",fontSize:11,fontWeight:700}),
    Plot.ruleY([0],{stroke:"#b2b5be",strokeDasharray:"5,5"}),
    barMark(hist.filter(d=>d.v>=0&&d.rise),"#26a69a"),
    barMark(hist.filter(d=>d.v>=0&&!d.rise),"#b2dfdb"),
    barMark(hist.filter(d=>d.v<0&&!d.rise),"#ff5252"),
    barMark(hist.filter(d=>d.v<0&&d.rise),"#ffcdd2"),
    ...zone([box(275.2,284.8,1600,0)],"#c2185b",.5),
    Plot.line(series(macdDays,macdK,1000),{x:"date",y:"v",stroke:"#2962ff",strokeWidth:1.2,clip:true}),
    Plot.line(series(signalDays,signalK,1000),{x:"date",y:"v",stroke:"#ff6d00",strokeWidth:1.2,clip:true}),
    ...tagMarks([box(325.8,347.3,2610,1950,"#2962ff"),box(320.3,347.3,1950,590,"#26a69a"),box(325.3,345,590,-770,"#ff6d00")]),
    TX([{x:day(330.3),y:2530,t:"MACD"},{x:day(339.6),y:2530,t:"1,850.42"},
        {x:day(326.9),y:1300,t:"Histogram"},{x:day(339.6),y:1300,t:"1,319.69"},
        {x:day(329.4),y:-60,t:"Signal"},{x:day(339.6),y:-60,t:"530.74"}])
  ]});
macd.style.top="722px";

const page=document.getElementById("page");
[main,rsi,macd].forEach(s=>{s.setAttribute("class",(s.getAttribute("class")||"")+" plot");s.style.position="absolute";s.style.left="0";page.appendChild(s);});
</script>
</body></html>
